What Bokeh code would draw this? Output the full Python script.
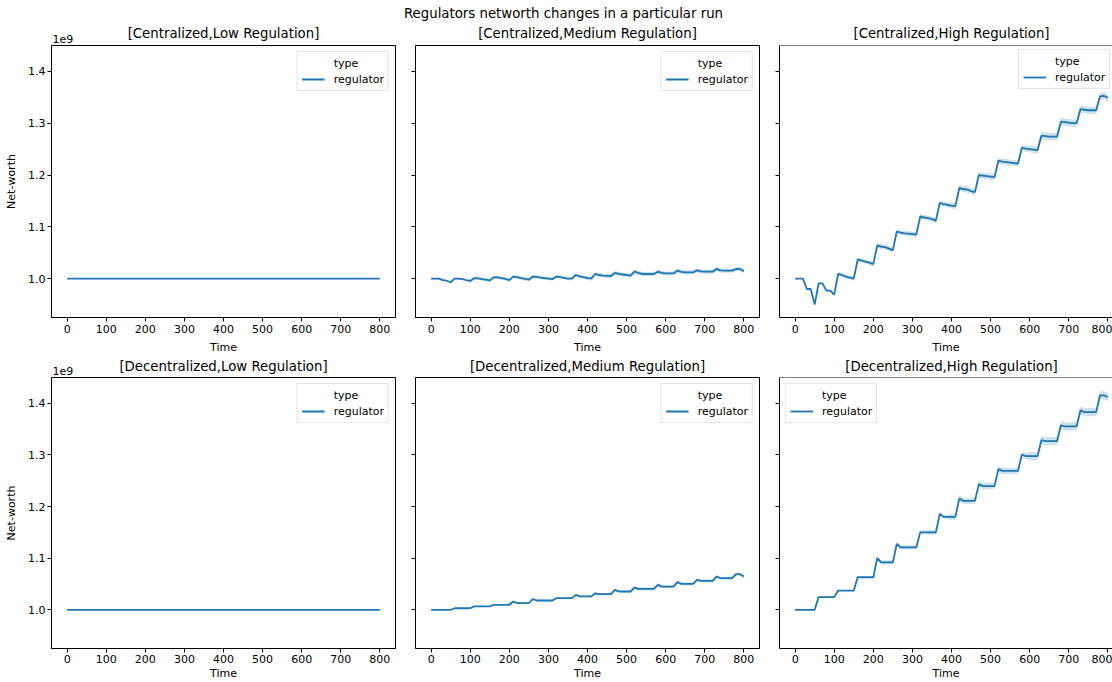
from bokeh.plotting import figure
from bokeh.models import (Range1d, FixedTicker, Legend, LegendItem, Span,
                          CustomJSTickFormatter, NumeralTickFormatter)
from bokeh.layouts import column, row
from bokeh.core.properties import value
from bokeh.embed import file_html
from bokeh.resources import INLINE

# ---------------- data (net-worth in units of 1e9) ----------------
SUPTITLE = "Regulators networth changes in a particular run"
TITLES = [["[Centralized,Low Regulation]", "[Centralized,Medium Regulation]", "[Centralized,High Regulation]"],
          ["[Decentralized,Low Regulation]", "[Decentralized,Medium Regulation]", "[Decentralized,High Regulation]"]]
SERIES_NAME = "regulator"
LEGEND_TITLE = "type"
X_LABEL = "Time"
Y_LABEL = "Net-worth"
OFFSET_TEXT = "1e9"

time = list(range(0, 810, 10))
x_ticks = [0, 100, 200, 300, 400, 500, 600, 700, 800]
y_ticks = [1.0, 1.1, 1.2, 1.3, 1.4]

central_low = [1.0] * 81
central_low_ci = [0.0] * 81
decentral_low = [1.0] * 81
decentral_low_ci = [0.0] * 81

central_med = [
    1.000, 1.000, 1.000, 0.997, 0.996, 0.993, 1.000, 1.000, 0.999, 0.997,
    0.9955, 1.001, 1.0005, 0.999, 0.998, 0.9965, 1.0025, 1.0025, 1.001, 0.9995,
    0.997, 1.004, 1.003, 1.001, 0.9995, 0.998, 1.004, 1.0035, 1.002, 1.001,
    1.000, 0.999, 1.004, 1.003, 1.0015, 1.000, 1.000, 1.007, 1.0045, 1.003,
    1.001, 1.0005, 1.009, 1.007, 1.006, 1.0055, 1.005, 1.011, 1.009, 1.008,
    1.007, 1.006, 1.0135, 1.011, 1.009, 1.009, 1.009, 1.009, 1.0135, 1.011,
    1.010, 1.010, 1.010, 1.0155, 1.013, 1.012, 1.012, 1.012, 1.016, 1.014,
    1.0135, 1.0135, 1.0135, 1.0187, 1.016, 1.0155, 1.0155, 1.0155, 1.0187, 1.0185,
    1.0145]
central_med_ci = [
    0.0015, 0.0015, 0.0015, 0.0015, 0.0015, 0.0015, 0.0015, 0.0015, 0.0015, 0.0015,
    0.003, 0.003, 0.003, 0.003, 0.003, 0.003, 0.003, 0.003, 0.003, 0.003,
    0.003, 0.003, 0.003, 0.003, 0.003, 0.003, 0.003, 0.003, 0.003, 0.003,
    0.003, 0.003, 0.003, 0.003, 0.003, 0.003, 0.003, 0.003, 0.003, 0.003,
    0.004, 0.004, 0.004, 0.004, 0.004, 0.004, 0.004, 0.004, 0.004, 0.004,
    0.004, 0.004, 0.004, 0.004, 0.004, 0.004, 0.004, 0.004, 0.004, 0.004,
    0.004, 0.004, 0.004, 0.004, 0.004, 0.004, 0.004, 0.004, 0.004, 0.004,
    0.004, 0.004, 0.004, 0.004, 0.004, 0.004, 0.004, 0.004, 0.004, 0.004,
    0.004]

central_high = [
    1.000, 1.000, 1.000, 0.980, 0.980, 0.950, 0.991, 0.991, 0.977, 0.977,
    0.969, 1.009, 1.007, 1.004, 1.002, 1.000, 1.037, 1.035, 1.033, 1.031,
    1.028, 1.064, 1.062, 1.061, 1.058, 1.055, 1.091, 1.089, 1.0875, 1.087,
    1.086, 1.085, 1.120, 1.118, 1.117, 1.115, 1.112, 1.146, 1.144, 1.1425,
    1.141, 1.140, 1.175, 1.173, 1.172, 1.169, 1.167, 1.200, 1.199, 1.198,
    1.197, 1.196, 1.228, 1.226, 1.225, 1.224, 1.223, 1.222, 1.2525, 1.251,
    1.250, 1.249, 1.248, 1.276, 1.275, 1.274, 1.274, 1.274, 1.303, 1.302,
    1.301, 1.300, 1.300, 1.327, 1.326, 1.325, 1.325, 1.325, 1.352, 1.353,
    1.349]
central_high_ci = [
    0.000, 0.000, 0.000, 0.002, 0.002, 0.002, 0.002, 0.002, 0.002, 0.002,
    0.002, 0.004, 0.004, 0.004, 0.004, 0.004, 0.004, 0.004, 0.004, 0.004,
    0.004, 0.005, 0.005, 0.005, 0.005, 0.005, 0.005, 0.005, 0.005, 0.005,
    0.005, 0.005, 0.005, 0.005, 0.005, 0.005, 0.005, 0.005, 0.005, 0.005,
    0.005, 0.006, 0.006, 0.006, 0.006, 0.006, 0.006, 0.006, 0.006, 0.006,
    0.006, 0.006, 0.006, 0.006, 0.006, 0.006, 0.006, 0.006, 0.006, 0.006,
    0.006, 0.007, 0.007, 0.007, 0.007, 0.007, 0.007, 0.007, 0.007, 0.007,
    0.007, 0.007, 0.007, 0.007, 0.007, 0.007, 0.007, 0.007, 0.007, 0.007,
    0.007]

decentral_med = [
    1.000, 1.000, 1.000, 1.000, 1.000, 1.000, 1.003, 1.003, 1.003, 1.003,
    1.003, 1.0065, 1.0065, 1.0065, 1.0065, 1.0065, 1.0097, 1.0097, 1.0097, 1.0097,
    1.0097, 1.016, 1.013, 1.013, 1.013, 1.013, 1.0206, 1.018, 1.018, 1.018,
    1.018, 1.018, 1.0225, 1.0225, 1.0225, 1.0225, 1.0225, 1.029, 1.026, 1.026,
    1.026, 1.026, 1.032, 1.0303, 1.0303, 1.0303, 1.0303, 1.0386, 1.0354, 1.0354,
    1.0354, 1.0354, 1.043, 1.0406, 1.0406, 1.0406, 1.0406, 1.0406, 1.0483, 1.045,
    1.045, 1.045, 1.045, 1.0535, 1.0502, 1.0502, 1.0502, 1.0502, 1.058, 1.056,
    1.056, 1.056, 1.056, 1.0644, 1.0612, 1.0612, 1.0612, 1.0612, 1.069, 1.069,
    1.0644]
decentral_med_ci = [
    0.001, 0.001, 0.001, 0.001, 0.001, 0.001, 0.001, 0.001, 0.001, 0.001,
    0.001, 0.001, 0.001, 0.001, 0.001, 0.001, 0.001, 0.001, 0.001, 0.001,
    0.002, 0.002, 0.002, 0.002, 0.002, 0.002, 0.002, 0.002, 0.002, 0.002,
    0.002, 0.002, 0.002, 0.002, 0.002, 0.002, 0.002, 0.002, 0.002, 0.002,
    0.002, 0.002, 0.002, 0.002, 0.002, 0.002, 0.002, 0.002, 0.002, 0.002,
    0.003, 0.003, 0.003, 0.003, 0.003, 0.003, 0.003, 0.003, 0.003, 0.003,
    0.003, 0.003, 0.003, 0.003, 0.003, 0.003, 0.003, 0.003, 0.003, 0.003,
    0.003, 0.003, 0.003, 0.003, 0.003, 0.003, 0.003, 0.003, 0.003, 0.003,
    0.003]

decentral_high = [
    1.000, 1.000, 1.000, 1.000, 1.000, 1.000, 1.0245, 1.0245, 1.0245, 1.0245,
    1.0245, 1.0373, 1.0373, 1.0373, 1.0373, 1.0373, 1.063, 1.063, 1.063, 1.063,
    1.063, 1.100, 1.092, 1.092, 1.092, 1.092, 1.1275, 1.121, 1.121, 1.121,
    1.121, 1.121, 1.150, 1.150, 1.150, 1.150, 1.150, 1.1855, 1.180, 1.180,
    1.180, 1.180, 1.2158, 1.211, 1.211, 1.211, 1.211, 1.2435, 1.2396, 1.2396,
    1.2396, 1.2396, 1.2725, 1.269, 1.269, 1.269, 1.269, 1.269, 1.3008, 1.2975,
    1.2975, 1.2975, 1.2975, 1.3285, 1.3266, 1.3266, 1.3266, 1.3266, 1.3575, 1.3555,
    1.3555, 1.3555, 1.3555, 1.3865, 1.383, 1.383, 1.383, 1.383, 1.4155, 1.4155,
    1.4123]
decentral_high_ci = [
    0.001, 0.001, 0.001, 0.001, 0.001, 0.001, 0.001, 0.001, 0.001, 0.001,
    0.001, 0.001, 0.001, 0.001, 0.001, 0.001, 0.001, 0.001, 0.001, 0.001,
    0.002, 0.004, 0.004, 0.004, 0.004, 0.004, 0.004, 0.004, 0.004, 0.004,
    0.004, 0.004, 0.004, 0.004, 0.004, 0.004, 0.004, 0.004, 0.004, 0.004,
    0.006, 0.006, 0.006, 0.006, 0.006, 0.006, 0.006, 0.006, 0.006, 0.006,
    0.006, 0.006, 0.006, 0.006, 0.006, 0.006, 0.006, 0.006, 0.006, 0.006,
    0.008, 0.008, 0.008, 0.008, 0.008, 0.008, 0.008, 0.008, 0.008, 0.008,
    0.008, 0.008, 0.008, 0.008, 0.008, 0.008, 0.008, 0.008, 0.008, 0.008,
    0.008]

SERIES = [[(central_low, central_low_ci), (central_med, central_med_ci), (central_high, central_high_ci)],
          [(decentral_low, decentral_low_ci), (decentral_med, decentral_med_ci), (decentral_high, decentral_high_ci)]]

# ---------------- styling / layout ----------------
FONT = "DejaVu Sans"
BLUE = "#1f77b4"
X_START, X_END = -40, 840
Y_START, Y_END = 0.925, 1.45
FRAME_W, FRAME_H = 344, 272
PAGE_W = 1112
COLS = [dict(lb=51, rb=5, fw=344), dict(lb=15, rb=5, fw=344), dict(lb=15, rb=0, fw=333)]
ROWS = [dict(hh=44, tb=1, bb=40, tsd=3, lsd=5, title_y=33, off_y=38),
        dict(hh=19, tb=1, bb=33, tsd=2, lsd=1, title_y=9, off_y=13)]
SUPTITLE_Y = 13
TITLE_SIZE = "13.3px"
LEGEND_LOC = [["top_right", "top_right", (239, 228)],
              ["top_right", "top_right", "top_left"]]


def frame_left(c):
    return sum(COLS[i]["lb"] + COLS[i]["fw"] + COLS[i]["rb"] for i in range(c)) + COLS[c]["lb"]


def header(r):
    rs = ROWS[r]
    h = rs["hh"]
    f = figure(width=PAGE_W, height=h, x_range=Range1d(0, PAGE_W), y_range=Range1d(0, h),
               output_backend="svg", toolbar_location=None, min_border=0,
               x_axis_type=None, y_axis_type=None, outline_line_color=None)
    if r == 0:
        f.text(x=[563], y=[h - SUPTITLE_Y], text=[SUPTITLE], text_align="center",
               text_baseline="middle", text_font=value(FONT), text_font_size=TITLE_SIZE,
               text_color="black")
    cx = [frame_left(c) + FRAME_W / 2 for c in range(3)]
    f.text(x=cx, y=[h - rs["title_y"]] * 3, text=TITLES[r], text_align="center",
           text_baseline="middle", text_font=value(FONT), text_font_size=TITLE_SIZE,
           text_color="black")
    f.text(x=[frame_left(0) + 1], y=[h - rs["off_y"]], text=[OFFSET_TEXT], text_align="left",
           text_baseline="middle", text_font=value(FONT), text_font_size="11px",
           text_color="black")
    return f


def style_axis(ax):
    ax.major_tick_out = 4
    ax.major_tick_in = 0
    ax.minor_tick_line_color = None
    ax.major_tick_line_color = "black"
    ax.axis_line_color = "black"
    ax.major_label_text_font = FONT
    ax.major_label_text_font_size = "11px"
    ax.major_label_text_color = "black"
    ax.axis_label_text_font = FONT
    ax.axis_label_text_font_size = "11px"
    ax.axis_label_text_font_style = "normal"
    ax.axis_label_text_color = "black"


def panel(r, c):
    cs, rs = COLS[c], ROWS[r]
    ys, ci = SERIES[r][c]
    x_end = X_START + (X_END - X_START) * cs["fw"] / FRAME_W
    p = figure(width=cs["lb"] + cs["fw"] + cs["rb"], height=rs["tb"] + FRAME_H + rs["bb"],
               x_range=Range1d(X_START, x_end), y_range=Range1d(Y_START, Y_END),
               output_backend="svg", toolbar_location=None,
               min_border_left=cs["lb"], min_border_right=cs["rb"],
               min_border_top=rs["tb"], min_border_bottom=rs["bb"])
    p.xgrid.visible = False
    p.ygrid.visible = False
    p.background_fill_color = "white"
    p.border_fill_color = "white"
    if c == 2:
        p.outline_line_color = None
        p.add_layout(Span(location=Y_END, dimension="width", line_color="black", line_width=1))
    else:
        p.outline_line_color = "black"
        p.outline_line_alpha = 1.0

    style_axis(p.xaxis[0])
    style_axis(p.yaxis[0])
    p.xaxis.ticker = FixedTicker(ticks=x_ticks)
    p.yaxis.ticker = FixedTicker(ticks=y_ticks)
    p.xaxis.axis_label = X_LABEL
    p.xaxis.major_label_standoff = rs["tsd"]
    p.xaxis.axis_label_standoff = rs["lsd"]
    if c == 0:
        p.yaxis.axis_label = Y_LABEL
        p.yaxis.formatter = NumeralTickFormatter(format="0.0")
        p.yaxis.major_label_standoff = 2
        p.yaxis.axis_label_standoff = 7
    else:
        p.yaxis.formatter = CustomJSTickFormatter(code="return ''")
        p.yaxis.major_label_standoff = 0

    lo = [v - e for v, e in zip(ys, ci)]
    hi = [v + e for v, e in zip(ys, ci)]
    p.varea(x=time, y1=lo, y2=hi, fill_color=BLUE, fill_alpha=0.22)
    line_r = p.line(x=time, y=ys, line_color=BLUE, line_width=1.8)
    dummy = p.line(x=[], y=[], line_color=None)

    legend = Legend(items=[LegendItem(label=LEGEND_TITLE, renderers=[dummy]),
                           LegendItem(label=SERIES_NAME, renderers=[line_r])],
                    location=LEGEND_LOC[r][c], margin=6, padding=4, spacing=2,
                    glyph_width=23, glyph_height=14, label_height=14, label_standoff=9,
                    label_text_font=FONT, label_text_font_size="11px", label_text_color="black",
                    border_line_color="#cccccc", border_line_width=1,
                    background_fill_color="white", background_fill_alpha=0.8)
    p.add_layout(legend)
    return p


parts = []
for r in range(2):
    parts.append(header(r))
    parts.append(row(*[panel(r, c) for c in range(3)]))
layout = column(*parts)

open("out.html", "w").write(file_html(layout, INLINE))
